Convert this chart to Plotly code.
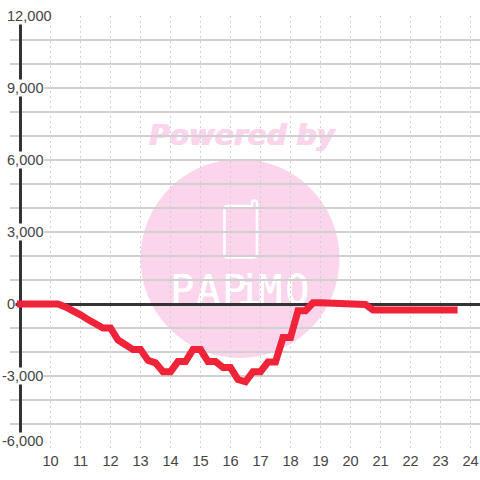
import plotly.graph_objects as go

hours = [8.88, 9.25, 9.5, 9.75, 10, 10.25, 10.5, 10.75, 11, 11.25, 11.5, 11.75, 12, 12.25, 12.5, 12.75, 13,
         13.25, 13.5, 13.75, 14, 14.25, 14.5, 14.75, 15, 15.25, 15.5, 15.75, 16, 16.25, 16.5, 16.75, 17,
         17.25, 17.5, 17.75, 18, 18.25, 18.5, 18.75, 19, 19.25, 19.5, 19.75, 20, 20.25, 20.5, 20.75, 21,
         21.25, 21.5, 21.75, 22, 22.25, 22.5, 22.75, 23, 23.25, 23.57]
values = [0, 0, 0, 0, 0, 0, -120, -250, -450, -650, -850, -1000, -1000, -1500, -1700, -1900, -1900,
          -2350, -2450, -2820, -2820, -2400, -2400, -1900, -1900, -2400, -2400, -2650, -2650, -3150, -3240, -2820, -2820,
          -2420, -2420, -1400, -1400, -280, -280, 50, 50, 50, 50, 30, 10, 0, -20, -250, -250,
          -250, -250, -250, -250, -250, -250, -250, -250, -250, -250]
x_ticks = list(range(10, 25))
y_ticks = [12000, 9000, 6000, 3000, 0, -3000, -6000]
y_labels = ["12,000", "9,000", "6,000", "3,000", "0", "-3,000", "-6,000"]
axis_x = [9, 9]
axis_y = [-5458, 11667]

W, H = 480, 480
L, R, T, B = 10, 0, 16, 32
PW, PH = W - L - R, H - T - B
px = lambda v: (v - L) / PW
py = lambda v: 1 - (v - T) / PH

INK = "#333333"
GRID = "#d0d0d0"
PINK = "#fbd5ec"
FONT = "Liberation Sans"

fig = go.Figure()
fig.add_trace(go.Scatter(x=axis_x, y=axis_y, mode="lines",
                         line=dict(color=INK, width=3), hoverinfo="skip"))
fig.add_trace(go.Scatter(x=hours, y=values, mode="lines",
                         line=dict(color="#f02338", width=7), hoverinfo="skip"))

shapes = [
    dict(type="rect", xref="paper", yref="paper", layer="between",
         x0=0, x1=px(20), y0=0, y1=1, fillcolor="white", line=dict(width=0)),
    dict(type="circle", xref="paper", yref="paper", layer="below",
         x0=px(140.5), x1=px(339.5), y0=py(358), y1=py(159),
         fillcolor=PINK, line=dict(width=0)),
    dict(type="rect", xref="paper", yref="paper", layer="below",
         x0=px(120), x1=px(364), y0=py(151), y1=py(115),
         fillcolor="rgba(0,0,0,0)", line=dict(width=0),
         label=dict(text="<b><i>Powered by</i></b>",
                    font=dict(family="DejaVu Sans", size=28, color=PINK,
                              shadow=f"0.7px 0 0 {PINK}, -0.7px 0 0 {PINK}, 0 0.5px 0 {PINK}"),
                    textposition="middle center")),
    dict(type="path", xref="paper", yref="paper", layer="below",
         path=("M {a} {b} L {c} {b} L {c} {d} Q {c} {e} {f} {e} Q {g} {e} {g} {d} "
               "L {g} {h} Q {g} {i} {c} {i} L {a} {i} Q {j} {i} {j} {h} L {j} {k} Q {j} {b} {a} {b} Z").format(
             a=px(228), b=py(206), c=px(252), d=py(203), e=py(200.5), f=px(254.5), g=px(257),
             h=py(254), i=py(257.5), j=px(224.5), k=py(209)),
         fillcolor="rgba(0,0,0,0)", line=dict(color="white", width=2.5)),
]
letters = ["P", "A", "P", "i", "M", "O"]
letter_x = [182, 208, 234, 249, 270, 297]
for c, lx in zip(letters, letter_x):
    shapes.append(dict(type="rect", xref="paper", yref="paper", layer="below",
                       x0=px(lx - 18), x1=px(lx + 18), y0=py(306), y1=py(268),
                       fillcolor="rgba(0,0,0,0)", line=dict(width=0),
                       label=dict(text=c,
                                  font=dict(family="DejaVu Sans Mono", size=40, color="white",
                                            shadow="0.5px 0 0 white"),
                                  textposition="middle center")))

annotations = [
    dict(x=px(6 if t >= 0 else 1), xref="paper", xanchor="left", y=t, yref="y", yanchor="middle",
         yshift=7 if t == -6000 else 0,
         text=s, showarrow=False, bgcolor="white", borderpad=0,
         font=dict(family=FONT, size=14.6, color="#444444"))
    for t, s in zip(y_ticks, y_labels)
]

fig.update_layout(
    width=W, height=H, margin=dict(l=L, r=R, t=T, b=B), autosize=False,
    paper_bgcolor="white", plot_bgcolor="white", showlegend=False,
    shapes=shapes, annotations=annotations,
    xaxis=dict(range=[10 + (L - 50.5) / 30, 10 + (W - 50.5) / 30], tickvals=x_ticks,
               ticktext=[str(v) for v in x_ticks], showgrid=True, gridcolor=GRID, griddash="2px,3px", gridwidth=1,
               zeroline=False, showline=False, ticks="", ticklabelstandoff=2,
               tickfont=dict(family=FONT, size=14.6, color="#444444")),
    yaxis=dict(range=[-6000, 12000], dtick=1000, tick0=0, showticklabels=False, showgrid=True,
               gridcolor=GRID, gridwidth=2, zeroline=True, zerolinecolor=INK, zerolinewidth=3,
               showline=False, ticks=""),
)
fig.write_html("out.html", config=dict(displayModeBar=False),
               post_script="document.body.style.margin='0';document.documentElement.style.overflow='hidden';")
